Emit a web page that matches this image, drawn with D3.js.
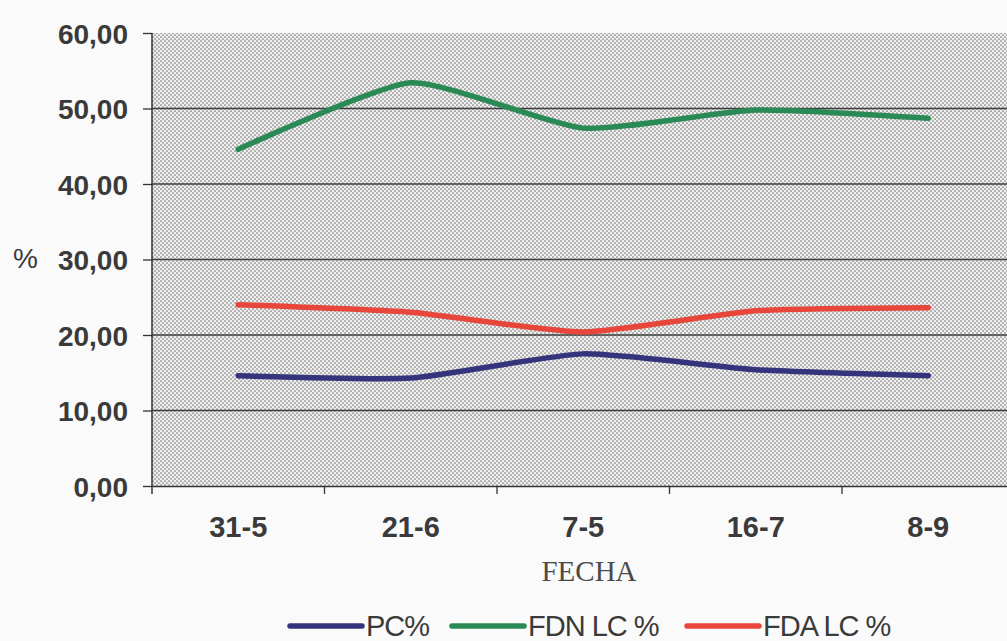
<!DOCTYPE html>
<html lang="es">
<head>
<meta charset="UTF-8">
<title>FECHA - PC, FDN, FDA</title>
<script src="https://cdn.jsdelivr.net/npm/d3@7"></script>
<style>
    body { margin: 0; background: #fafafa; }
    svg { display: block; }
    .tick text { font-family: "Liberation Sans", Arial, sans-serif; font-weight: bold; fill: #3a3a3a; }
    .legend text { font-family: "Liberation Sans", Arial, sans-serif; fill: #3a3a3a; letter-spacing: -1px; }
</style>
</head>
<body>
<svg id="canvas" width="1007" height="641"></svg>
<script>
    // datos
    const fechas = ["31-5", "21-6", "7-5", "16-7", "8-9"];
    const pc = [14.6, 14.3, 17.5, 15.4, 14.6];
    const fdn = [44.6, 53.4, 47.4, 49.8, 48.7];
    const fda = [24.0, 23.0, 20.4, 23.2, 23.6];
    const yTicks = [0, 10, 20, 30, 40, 50, 60];

    const series = [
        {name: "PC%", values: pc, color: "#34347c"},
        {name: "FDN LC %", values: fdn, color: "#2a8a55"},
        {name: "FDA LC %", values: fda, color: "#e8463a"}
    ];

    const svg = d3.select("#canvas");
    const mLeft = 152, mTop = 33, mBottom = 486;
    const mRight = mLeft + 5 * 172.5;

    const x = d3.scaleBand().domain(fechas).range([mLeft, mRight]);
    const y = d3.scaleLinear().domain([0, 60]).range([mBottom, mTop]);

    // fondo punteado (trama)
    const defs = svg.append("defs");
    const pat = defs.append("pattern")
        .attr("id", "dots").attr("patternUnits", "userSpaceOnUse")
        .attr("width", 4).attr("height", 4);
    pat.append("rect").attr("width", 4).attr("height", 4).attr("fill", "#efefef");
    pat.append("circle").attr("cx", 1).attr("cy", 1).attr("r", 0.85).attr("fill", "#7a7a7a");
    pat.append("circle").attr("cx", 3).attr("cy", 3).attr("r", 0.85).attr("fill", "#7a7a7a");

    svg.append("rect")
        .attr("x", mLeft).attr("y", mTop)
        .attr("width", mRight - mLeft).attr("height", mBottom - mTop)
        .attr("fill", "url(#dots)");

    // lineas de division
    svg.append("g")
        .selectAll("line")
        .data(yTicks.filter(d => d > 0 && d < 60))
        .join("line")
        .attr("x1", mLeft).attr("x2", mRight)
        .attr("y1", d => y(d)).attr("y2", d => y(d))
        .attr("stroke", "#3c3c3c").attr("stroke-width", 1.3);

    // eje Y
    const yAxis = svg.append("g")
        .attr("transform", `translate(${mLeft},0)`)
        .call(d3.axisLeft(y).tickValues(yTicks).tickSize(9).tickPadding(15)
            .tickFormat(d => d3.format(".2f")(d).replace(".", ",")));
    yAxis.select(".domain").attr("stroke", "#333").attr("stroke-width", 1.5).attr("d", `M0,${mTop}V${mBottom + 8}`);
    yAxis.selectAll(".tick line").attr("stroke", "#333").attr("stroke-width", 1.3);
    yAxis.selectAll(".tick text").attr("font-size", 28).attr("dy", "0.36em");

    // eje X
    const xAxis = svg.append("g")
        .attr("transform", `translate(0,${mBottom})`)
        .call(d3.axisBottom(x).tickSize(0).tickPadding(30));
    xAxis.select(".domain").attr("stroke", "#333").attr("stroke-width", 1.5);
    xAxis.selectAll(".tick text").attr("font-size", 29);
    // marcas entre categorias
    xAxis.append("g")
        .selectAll("line")
        .data(fechas.slice(1))
        .join("line")
        .attr("x1", d => x(d)).attr("x2", d => x(d))
        .attr("y1", 0).attr("y2", 8)
        .attr("stroke", "#333").attr("stroke-width", 1.3);

    // titulo eje Y
    svg.append("text")
        .attr("x", 13).attr("y", 268)
        .attr("font-family", "Liberation Sans, Arial, sans-serif")
        .attr("font-size", 28).attr("fill", "#3a3a3a")
        .text("%");

    // titulo eje X
    svg.append("text")
        .attr("x", 589).attr("y", 581)
        .attr("text-anchor", "middle")
        .attr("font-family", "Liberation Serif, Times New Roman, serif")
        .attr("font-size", 29).attr("fill", "#4a4a4a")
        .text("FECHA");

    // series (linea suavizada)
    const line = d3.line()
        .x((d, i) => x(fechas[i]) + x.bandwidth() / 2)
        .y(d => y(d))
        .curve(d3.curveCardinal.tension(0.45));

    svg.append("g")
        .selectAll("path")
        .data(series)
        .join("path")
        .attr("d", d => line(d.values))
        .attr("fill", "none")
        .attr("stroke", d => d.color)
        .attr("stroke-width", 5.5)
        .attr("stroke-linecap", "round");

    // leyenda
    const legendX = [290, 452, 687];
    const lg = svg.append("g").attr("class", "legend");
    const item = lg.selectAll("g")
        .data(series)
        .join("g")
        .attr("transform", (d, i) => `translate(${legendX[i]},636)`);
    item.append("line")
        .attr("x1", 0).attr("x2", 72)
        .attr("y1", -10).attr("y2", -10)
        .attr("stroke", d => d.color).attr("stroke-width", 5.5)
        .attr("stroke-linecap", "round");
    item.append("text")
        .attr("x", 76)
        .attr("y", 0)
        .attr("font-size", 29)
        .text(d => d.name);
</script>
</body>
</html>
